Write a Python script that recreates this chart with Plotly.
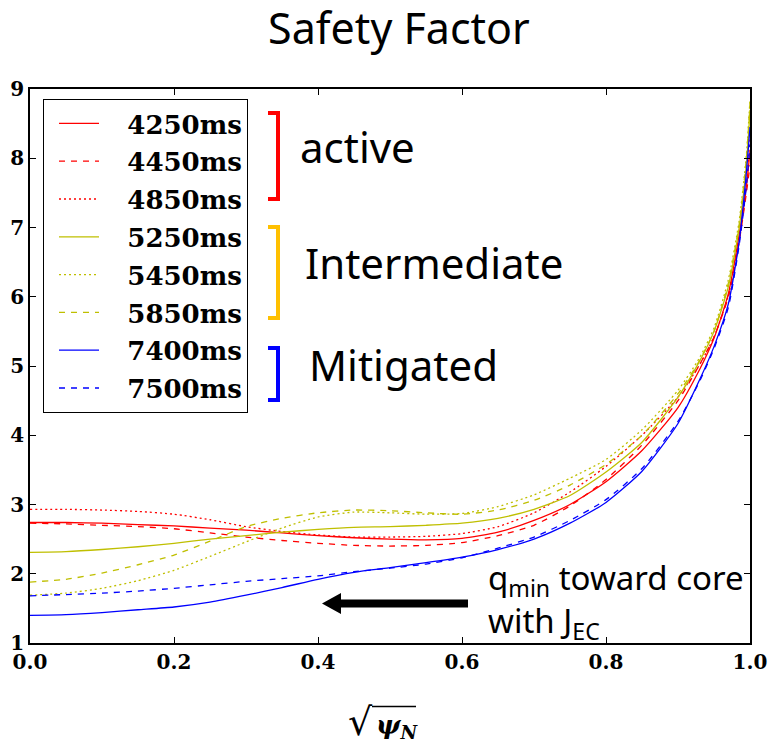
import plotly.graph_objects as go

# Normalised radius sqrt(psi_N) sample points
rho = [0.0, 0.05, 0.1, 0.15, 0.2, 0.25, 0.3, 0.35, 0.4, 0.45, 0.5, 0.55, 0.6,
       0.65, 0.7, 0.75, 0.8, 0.85, 0.9, 0.93, 0.95, 0.97, 0.985, 0.995, 1.0]

# Safety factor profiles q(rho) at each time slice
q_4250 = [2.74, 2.74, 2.73, 2.71, 2.69, 2.66, 2.63, 2.59, 2.55, 2.52, 2.50, 2.49, 2.51,
          2.60, 2.77, 3.00, 3.33, 3.78, 4.40, 4.95, 5.40, 6.05, 6.90, 7.60, 8.10]
q_4450 = [2.73, 2.72, 2.70, 2.68, 2.65, 2.59, 2.53, 2.48, 2.44, 2.41, 2.40, 2.41, 2.45,
          2.55, 2.70, 2.98, 3.36, 3.86, 4.50, 5.02, 5.42, 6.00, 6.80, 7.50, 7.90]
q_4850 = [2.93, 2.93, 2.92, 2.90, 2.86, 2.78, 2.68, 2.61, 2.56, 2.53, 2.53, 2.54, 2.58,
          2.68, 2.88, 3.18, 3.55, 4.00, 4.55, 5.02, 5.42, 6.02, 6.80, 7.60, 8.30]
q_5250 = [2.31, 2.32, 2.35, 2.39, 2.44, 2.50, 2.55, 2.60, 2.64, 2.67, 2.68, 2.70, 2.73,
          2.80, 2.93, 3.13, 3.47, 3.90, 4.55, 5.07, 5.50, 6.15, 7.00, 7.90, 8.70]
q_5450 = [1.69, 1.72, 1.79, 1.90, 2.05, 2.25, 2.46, 2.66, 2.82, 2.89, 2.88, 2.86, 2.87,
          2.97, 3.14, 3.38, 3.65, 4.08, 4.65, 5.12, 5.55, 6.25, 7.10, 8.05, 8.85]
q_5850 = [1.88, 1.92, 2.01, 2.13, 2.27, 2.47, 2.68, 2.80, 2.88, 2.92, 2.91, 2.88, 2.86,
          2.92, 3.06, 3.28, 3.58, 4.00, 4.60, 5.08, 5.50, 6.20, 7.05, 8.00, 8.80]
q_7400 = [1.40, 1.41, 1.44, 1.48, 1.52, 1.59, 1.69, 1.80, 1.92, 2.02, 2.09, 2.16, 2.24,
          2.35, 2.50, 2.73, 3.03, 3.48, 4.17, 4.80, 5.28, 5.90, 6.80, 7.80, 8.45]
q_7500 = [1.68, 1.70, 1.72, 1.75, 1.79, 1.84, 1.89, 1.93, 1.97, 2.03, 2.08, 2.14, 2.23,
          2.37, 2.53, 2.77, 3.07, 3.52, 4.20, 4.78, 5.25, 5.85, 6.75, 7.60, 8.20]

series_names = ["4250ms", "4450ms", "4850ms", "5250ms", "5450ms", "5850ms", "7400ms", "7500ms"]
series_values = [q_4250, q_4450, q_4850, q_5250, q_5450, q_5850, q_7400, q_7500]

x_ticks = [0.0, 0.2, 0.4, 0.6, 0.8, 1.0]
x_tick_labels = ["0.0", "0.2", "0.4", "0.6", "0.8", "1.0"]
y_ticks = [1, 2, 3, 4, 5, 6, 7, 8, 9]
y_tick_labels = ["1", "2", "3", "4", "5", "6", "7", "8", "9"]

RED, OLIVE, BLUE = "#FF0000", "#BFBF00", "#0000FF"
styles = [
    (RED, "solid"), (RED, "6px,6px"), (RED, "2px,3px"),
    (OLIVE, "solid"), (OLIVE, "2px,3px"), (OLIVE, "6px,6px"),
    (BLUE, "solid"), (BLUE, "6px,6px"),
]

W, H = 771, 743
L, R, T, B = 30, 21, 89, 100
PW, PH = W - L - R, H - T - B


def px(x):
    """Horizontal pixel -> paper fraction."""
    return (x - L) / PW


def py(y):
    """Vertical pixel (from top) -> paper fraction."""
    return (H - B - y) / PH


# Leading pad so legend labels sit well clear of the line samples
PAD = "\u00a0\u00a0\u2009"

fig = go.Figure()
for i, (name, vals) in enumerate(zip(series_names, series_values)):
    color, dash = styles[i]
    fig.add_trace(go.Scatter(
        x=rho, y=vals, mode="lines", name=PAD + name, legendgroup=name,
        line=dict(color=color, width=1.3, dash=dash, shape="spline", smoothing=0.6),
    ))

serif_bold = dict(family="DejaVu Serif", size=20, color="black", weight="bold")
axis_common = dict(
    showline=True, linecolor="black", linewidth=1.5, mirror="ticks",
    ticks="inside", ticklen=6, tickwidth=1, tickcolor="black",
    showgrid=False, zeroline=False, tickfont=serif_bold, automargin=False,
)

fig.update_xaxes(range=[0, 1], tickvals=x_ticks, ticktext=x_tick_labels, **axis_common)
fig.update_yaxes(range=[1, 9], tickvals=y_ticks, ticktext=y_tick_labels, **axis_common)

shapes = []
# Group brackets beside the legend
brackets = [(113, 199, RED), (227, 318, "#FFC000"), (348, 400, BLUE)]
for y0, y1, col in brackets:
    shapes.append(dict(
        type="path", xref="paper", yref="paper",
        path=f"M {px(268)},{py(y0)} L {px(278)},{py(y0)} L {px(278)},{py(y1)} L {px(268)},{py(y1)}",
        line=dict(color=col, width=4), fillcolor="rgba(0,0,0,0)",
    ))
# Arrow pointing toward the core
shapes.append(dict(
    type="path", xref="paper", yref="paper",
    path=(f"M {px(468)},{py(599.5)} L {px(341)},{py(599.5)} L {px(341)},{py(593)} "
          f"L {px(322)},{py(603.5)} L {px(341)},{py(614)} L {px(341)},{py(607.5)} "
          f"L {px(468)},{py(607.5)} Z"),
    line=dict(color="black", width=0), fillcolor="black",
))
# Overbar of the square root in the axis title
shapes.append(dict(
    type="line", xref="paper", yref="paper",
    x0=px(372), x1=px(416), y0=py(706.5), y1=py(706.5),
    line=dict(color="black", width=1.5),
))

sans = "Noto Sans"
annotations = [
    dict(text="active", x=px(298), y=py(146), xanchor="left", yanchor="middle",
         font=dict(family=sans, size=42, color="black")),
    dict(text="Intermediate", x=px(303), y=py(262), xanchor="left", yanchor="middle",
         font=dict(family=sans, size=42, color="black")),
    dict(text="Mitigated", x=px(307), y=py(364), xanchor="left", yanchor="middle",
         font=dict(family=sans, size=42, color="black")),
    dict(text="q<sub>min</sub> toward core<br>with J<sub>EC</sub>", x=px(486), y=py(601),
         xanchor="left", yanchor="middle", align="left",
         font=dict(family=sans, size=33, color="black")),
    dict(text="<b><i>ψ<sub>N</sub></i></b>", x=px(374), y=py(726), xanchor="left",
         yanchor="middle", font=dict(family="DejaVu Serif", size=26, color="black")),
    dict(text="√", x=px(375), y=py(722), xanchor="right", yanchor="middle",
         font=dict(family="DejaVu Serif", size=38, color="black")),
]
for a in annotations:
    a.update(xref="paper", yref="paper", showarrow=False)

fig.update_layout(
    width=W, height=H,
    margin=dict(l=L, r=R, t=T, b=B, autoexpand=False),
    paper_bgcolor="white", plot_bgcolor="white",
    title=dict(text="Safety Factor", x=px(399), xref="paper", xanchor="center",
               y=1 - 29 / H, yanchor="middle",
               font=dict(family=sans, size=43, color="black")),
    showlegend=True,
    legend=dict(
        x=px(43), y=py(99), xanchor="left", yanchor="top",
        bgcolor="white", bordercolor="black", borderwidth=1,
        font=dict(family="DejaVu Serif", size=26, color="black", weight="bold"),
        tracegroupgap=1, itemwidth=40, indentation=10,
    ),
    shapes=shapes,
    annotations=annotations,
)

fig.write_html("out.html")
